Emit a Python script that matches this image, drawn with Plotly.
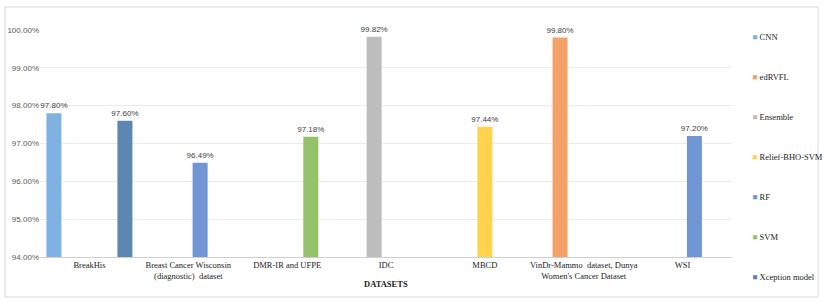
import plotly.graph_objects as go

categories = ["BreakHis", "Breast Cancer Wisconsin<br>(diagnostic)  dataset", "DMR-IR and UFPE", "IDC",
              "MBCD", "VinDr-Mammo  dataset, Dunya<br>Women's Cancer Dataset", "WSI"]

series_names = ["CNN", "edRVFL", "Ensemble", "Relief-BHO-SVM", "RF", "SVM", "Xception model"]
series_x = [
    [categories[0]],
    [categories[5]],
    [categories[3]],
    [categories[4]],
    [categories[1], categories[6]],
    [categories[2]],
    [categories[0]],
]
series_y = [
    [97.80],
    [99.80],
    [99.82],
    [97.44],
    [96.49, 97.20],
    [97.18],
    [97.60],
]
colors = ["#7FB2E0", "#F4A26A", "#BDBDBD", "#FFD34D", "#7196D4", "#93C26B", "#5D87B3"]

y_ticks = [94, 95, 96, 97, 98, 99, 100]
y_tick_labels = ["94.00%", "95.00%", "96.00%", "97.00%", "98.00%", "99.00%", "100.00%"]

slot = 0.1197
bw = 0.152

fig = go.Figure()
for i, name in enumerate(series_names):
    fig.add_trace(go.Bar(
        x=series_x[i], y=series_y[i], name=name,
        marker=dict(color=colors[i], line=dict(width=0)),
        width=bw, offset=(i - 3) * slot - bw / 2,
        text=[f"{v:.2f}%" for v in series_y[i]],
        textposition="outside", cliponaxis=False, constraintext="none",
        textfont=dict(family="Liberation Sans", size=8, color="#404040"),
        showlegend=False,
    ))
    # legend-only entry: small coloured square drawn as text right before the name
    fig.add_trace(go.Scatter(
        x=[None], y=[None], mode="markers",
        name=f"<span style='color:{colors[i]}'>■</span> {name}",
        marker=dict(symbol="square", size=1, color="rgba(0,0,0,0)"),
        legendgroup=name, showlegend=True, hoverinfo="skip",
    ))

fig.update_layout(
    width=824, height=302,
    margin=dict(l=40, r=92, t=30, b=45, autoexpand=False),
    paper_bgcolor="white", plot_bgcolor="white",
    barmode="overlay",
    showlegend=True,
    legend=dict(xref="container", yref="container", x=0.8645, y=0.927,
                xanchor="left", yanchor="top", maxheight=400,
                font=dict(family="Liberation Serif", size=8.5, color="#222222"),
                tracegroupgap=21, itemwidth=30,
                bgcolor="rgba(0,0,0,0)"),
    xaxis=dict(type="category", categoryorder="array", categoryarray=categories,
               range=[-0.5, 6.5], showgrid=False, ticks="",
               showline=True, linecolor="#D0D0D0", linewidth=1,
               tickfont=dict(family="Liberation Serif", size=8.5, color="#222222")),
    yaxis=dict(range=[94, 100], tickvals=y_ticks, ticktext=y_tick_labels,
               showgrid=True, gridcolor="#EBEBEB", gridwidth=1, zeroline=False,
               tickfont=dict(family="Liberation Sans", size=8, color="#595959"),
               ticks="", showline=False),
    annotations=[dict(text="<b>DATASETS</b>", x=0.5, y=-0.119, xref="paper", yref="paper",
                      xanchor="center", yanchor="middle", showarrow=False,
                      font=dict(family="Liberation Serif", size=8.5, color="#222222"))],
    shapes=[dict(type="rect", xref="paper", yref="paper",
                 x0=-0.0506, x1=1.1243, y0=-0.1762, y1=1.1013,
                 line=dict(color="#D9D9D9", width=1), fillcolor="rgba(0,0,0,0)", layer="below")],
)

fig.write_html("out.html", config={"displayModeBar": False},
               post_script="document.body.style.margin='0';")
